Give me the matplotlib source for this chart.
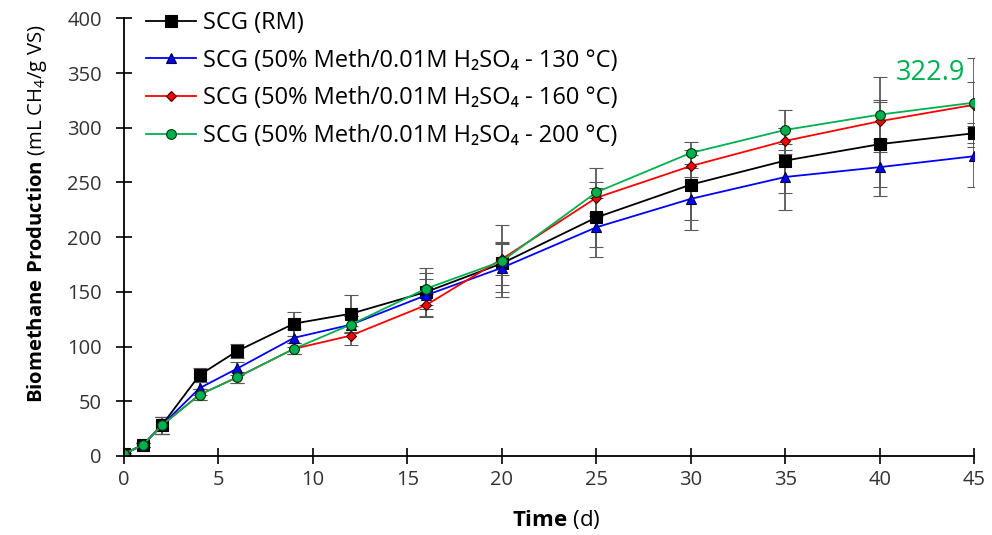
import matplotlib
matplotlib.use('Agg')
import matplotlib.pyplot as plt
import numpy as np

plt.rcParams['font.family'] = ['Open Sans', 'DejaVu Sans']
plt.rcParams['mathtext.fontset'] = 'custom'
plt.rcParams['mathtext.rm'] = 'Open Sans'
plt.rcParams['mathtext.bf'] = 'Open Sans:bold'

# Time (d)
days = [0, 1, 2, 4, 6, 9, 12, 16, 20, 25, 30, 35, 40, 45]

# Cumulative biomethane (mL CH4/g VS)
rm = [2, 10, 28, 74, 96, 121, 130, 150, 176, 218, 248, 270, 285, 295]
t130 = [2, 10, 28, 62, 80, 108, 120, 147, 172, 209, 235, 255, 264, 274]
t160 = [2, 10, 28, 56, 72, 98, 110, 138, 180, 236, 265, 288, 306, 321]
t200 = [2, 10, 28, 56, 72, 98, 120, 153, 178, 241, 277, 298, 312, 323]

# Standard deviations
rm_err = [1, 2, 8, 6, 6, 11, 17, 12, 20, 27, 32, 30, 39, 9]
t130_err = [1, 2, 8, 6, 6, 8, 8, 20, 22, 27, 28, 30, 26, 28]
t160_err = [1, 2, 8, 5, 5, 5, 9, 10, 15, 14, 10, 12, 19, 21]
t200_err = [1, 2, 8, 5, 5, 5, 8, 19, 33, 22, 10, 18, 34, 41]

labels = ['SCG (RM)',
          'SCG (50% Meth/0.01M H\u2082SO\u2084 - 130 \u00b0C)',
          'SCG (50% Meth/0.01M H\u2082SO\u2084 - 160 \u00b0C)',
          'SCG (50% Meth/0.01M H\u2082SO\u2084 - 200 \u00b0C)']
final_label = '322.9'

fig = plt.figure(figsize=(9.92, 5.35), dpi=100)
ax = fig.add_axes([0.125, 0.1477, 0.857, 0.818])

series = [
    (rm, rm_err, '#000000', 's', 8, '#000000'),
    (t130, t130_err, '#0000ff', '^', 7, '#000033'),
    (t160, t160_err, '#ff0000', 'D', 5.5, '#330000'),
    (t200, t200_err, '#00b050', 'o', 7, '#003300'),
]
for (vals, err, col, mk, ms, ec), lab in zip(series, labels):
    ax.errorbar(days, vals, yerr=err, color=col, marker=mk, markersize=ms,
                markerfacecolor=col, markeredgecolor=ec, markeredgewidth=0.8,
                linewidth=1.3, ecolor='#595959', elinewidth=1.3, capsize=5,
                capthick=1.3, label=lab)

ax.annotate(final_label, xy=(days[-1], t200[-1]), xytext=(-6.5, 16.5),
            textcoords='offset points', color='#00b050', fontsize=19.5,
            ha='right', va='baseline', annotation_clip=False)

ax.set_xlim(0, 45)
ax.set_ylim(0, 400)
ax.set_xticks(np.arange(0, 46, 5))
ax.set_yticks(np.arange(0, 401, 50))
for s in ['top', 'right']:
    ax.spines[s].set_visible(False)
for s in ['left', 'bottom']:
    ax.spines[s].set_linewidth(1.3)
ax.tick_params(direction='inout', length=12, width=1.2, labelsize=14.5,
               colors='#000000', labelcolor='#333333')
ax.tick_params(axis='x', pad=4)
ax.tick_params(axis='y', pad=10)

ax.set_xlabel(r'$\bf{Time}$ (d)', fontsize=16)
ax.set_ylabel(r'$\bf{Biomethane\ Production}$ (mL CH$_4$/g VS)', fontsize=14.6)
ax.xaxis.set_label_coords(0.508, -0.12)
ax.yaxis.set_label_coords(-0.088, 0.553)

handles, labs = ax.get_legend_handles_labels()
handles = [h[0] for h in handles]
ax.legend(handles, labs, loc='upper left', bbox_to_anchor=(0.133, 1.006),
          bbox_transform=fig.transFigure, frameon=False, fontsize=17,
          handlelength=2.1, handletextpad=0.3, labelspacing=0.58,
          borderaxespad=0.2)

fig.savefig('out.png', dpi=100)
